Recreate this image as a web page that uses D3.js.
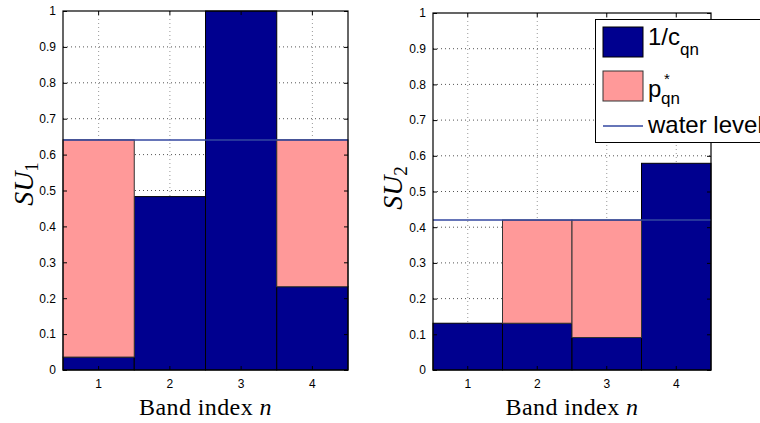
<!DOCTYPE html>
<html>
<head>
<meta charset="utf-8">
<script src="https://cdn.jsdelivr.net/npm/d3@7"></script>
<style>
  body { margin: 0; background: #fff; }
  svg { display: block; }
  .tick-label { font-family: "Liberation Sans", Arial, sans-serif; font-size: 12px; fill: #000; }
</style>
</head>
<body>
<div class="canvas"></div>
<script>
const bands = [1, 2, 3, 4];
const yTicks = [0, 0.1, 0.2, 0.3, 0.4, 0.5, 0.6, 0.7, 0.8, 0.9, 1];

// SU1
const invGain1 = [0.036, 0.483, 1.0, 0.232];
const power1 = [0.605, 0, 0, 0.409];
const waterLevel1 = 0.641;

// SU2
const invGain2 = [0.131, 0.131, 0.091, 0.579];
const power2 = [0, 0.289, 0.329, 0];
const waterLevel2 = 0.42;

const legendLabels = ['1/c', 'p', 'water level'];

const width = 760;
const height = 423;

const blue = '#00008f';
const pink = '#ff9999';
const lineBlue = '#3347a0';

const svg = d3.select('.canvas')
    .append('svg')
    .attr('width', width)
    .attr('height', height);

////////// ONE PANEL ///////////////////

function drawPanel(opt) {
    const x = d3.scaleBand()
        .domain(bands)
        .range([opt.left, opt.right])
        .padding(0);

    const y = d3.scaleLinear()
        .domain([0, 1])
        .range([opt.bottom, opt.top]);

    const g = svg.append('g');

    // dotted grid
    g.selectAll('.vgrid')
        .data(bands)
        .enter()
        .append('line')
        .attr('x1', d => x(d) + x.bandwidth() / 2)
        .attr('x2', d => x(d) + x.bandwidth() / 2)
        .attr('y1', opt.top)
        .attr('y2', opt.bottom)
        .attr('stroke', '#999')
        .attr('stroke-dasharray', '1,3');

    g.selectAll('.hgrid')
        .data(yTicks.slice(1, -1))
        .enter()
        .append('line')
        .attr('x1', opt.left)
        .attr('x2', opt.right)
        .attr('y1', d => y(d))
        .attr('y2', d => y(d))
        .attr('stroke', '#555')
        .attr('stroke-dasharray', '1,3');

    // 1/c bars
    g.selectAll('.inv')
        .data(opt.inv)
        .enter()
        .append('rect')
        .attr('x', (d, i) => x(bands[i]))
        .attr('width', x.bandwidth())
        .attr('y', d => y(d))
        .attr('height', d => y(0) - y(d))
        .attr('fill', blue)
        .attr('stroke', '#000')
        .attr('stroke-width', 1);

    // power stacked on top of 1/c
    const pw = opt.pow.map((p, i) => ({band: bands[i], base: opt.inv[i], p: p}))
        .filter(d => d.p > 0);
    g.selectAll('.pow')
        .data(pw)
        .enter()
        .append('rect')
        .attr('x', d => x(d.band))
        .attr('width', x.bandwidth())
        .attr('y', d => y(d.base + d.p))
        .attr('height', d => y(0) - y(d.p))
        .attr('fill', pink)
        .attr('stroke', '#333')
        .attr('stroke-width', 1);

    // water level
    g.append('line')
        .attr('x1', opt.left)
        .attr('x2', opt.right)
        .attr('y1', y(opt.water))
        .attr('y2', y(opt.water))
        .attr('stroke', lineBlue)
        .attr('stroke-width', 1.5);

    // box
    g.append('rect')
        .attr('x', opt.left)
        .attr('y', opt.top)
        .attr('width', opt.right - opt.left)
        .attr('height', opt.bottom - opt.top)
        .attr('fill', 'none')
        .attr('stroke', '#000')
        .attr('stroke-width', 1.2);

    // axes (ticks inside)
    const yAxis = d3.axisLeft(y)
        .tickValues(yTicks)
        .tickSize(-4)
        .tickPadding(7)
        .tickFormat(d => d3.format('~g')(d));

    const gY = g.append('g')
        .attr('transform', `translate(${opt.left}, 0)`)
        .call(yAxis);
    gY.select('.domain').remove();
    gY.selectAll('text').attr('class', 'tick-label').attr('font-size', null).attr('font-family', null);

    const yAxisR = d3.axisRight(y).tickValues(yTicks).tickSize(-4).tickFormat('');
    const gYR = g.append('g').attr('transform', `translate(${opt.right}, 0)`).call(yAxisR);
    gYR.select('.domain').remove();

    const xAxis = d3.axisBottom(x)
        .tickSize(-4)
        .tickPadding(9);
    const gX = g.append('g')
        .attr('transform', `translate(0, ${opt.bottom})`)
        .call(xAxis);
    gX.select('.domain').remove();
    gX.selectAll('text').attr('class', 'tick-label').attr('font-size', null).attr('font-family', null);

    const xAxisT = d3.axisTop(x).tickSize(-4).tickFormat('');
    const gXT = g.append('g').attr('transform', `translate(0, ${opt.top})`).call(xAxisT);
    gXT.select('.domain').remove();

    // x label
    const xl = g.append('text')
        .attr('x', (opt.left + opt.right) / 2)
        .attr('y', 415)
        .attr('text-anchor', 'middle')
        .style('font-family', '"Liberation Serif", "Times New Roman", serif')
        .style('font-size', '24px')
        .style('letter-spacing', '0.4px');
    xl.append('tspan').text('Band index ');
    xl.append('tspan').style('font-style', 'italic').text('n');

    // y label
    const yl = g.append('text')
        .attr('transform', `translate(${opt.ylx}, ${opt.yly}) rotate(-90)`)
        .attr('text-anchor', 'middle')
        .style('font-family', '"Liberation Serif", "Times New Roman", serif')
        .style('font-size', '28px');
    yl.append('tspan').style('font-style', 'italic').text('SU');
    yl.append('tspan').attr('dy', 5).style('font-size', '19px').text(opt.sub);
}

drawPanel({left: 63, right: 348, top: 11, bottom: 370,
    inv: invGain1, pow: power1, water: waterLevel1, sub: '1', ylx: 33, yly: 184});
drawPanel({left: 433, right: 711, top: 13, bottom: 370,
    inv: invGain2, pow: power2, water: waterLevel2, sub: '2', ylx: 402, yly: 188});

////////// LEGEND ///////////////////

const legend = svg.append('g');
legend.append('rect')
    .attr('x', 595.5)
    .attr('y', 19.5)
    .attr('width', 200)
    .attr('height', 123)
    .attr('fill', '#fff')
    .attr('stroke', '#000')
    .attr('stroke-width', 1);

legend.append('rect').attr('x', 603).attr('y', 27).attr('width', 40).attr('height', 30)
    .attr('fill', blue).attr('stroke', '#000');
legend.append('rect').attr('x', 603).attr('y', 71).attr('width', 40).attr('height', 30)
    .attr('fill', pink).attr('stroke', '#333');
legend.append('line').attr('x1', 603).attr('x2', 643).attr('y1', 126).attr('y2', 126)
    .attr('stroke', lineBlue).attr('stroke-width', 1.5);

const lt = legend.append('g')
    .style('font-family', '"Liberation Sans", Arial, sans-serif')
    .style('font-size', '24px');

const t1 = lt.append('text').attr('x', 648).attr('y', 45);
t1.append('tspan').text(legendLabels[0]);
t1.append('tspan').attr('dy', 10).style('font-size', '17px').text('qn');

const t2 = lt.append('text').attr('x', 648).attr('y', 97);
t2.append('tspan').text(legendLabels[1]);
lt.append('text').attr('x', 664).attr('y', 84).style('font-size', '15px').text('*');
lt.append('text').attr('x', 661).attr('y', 104).style('font-size', '17px').text('qn');

// reference legend runs off the right edge; keep it that way
lt.append('text').attr('x', 648).attr('y', 133).text(legendLabels[2]);
</script>
</body>
</html>
